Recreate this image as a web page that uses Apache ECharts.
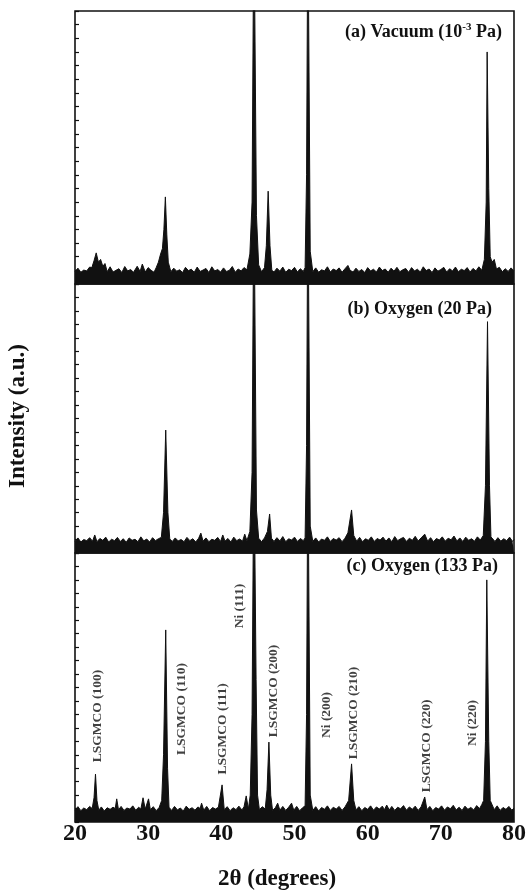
<!DOCTYPE html>
<html><head><meta charset="utf-8">
<script src="https://cdn.jsdelivr.net/npm/echarts@6/dist/echarts.min.js"></script>
<style>html,body{margin:0;padding:0;background:#fff}#c{width:529px;height:891px}</style>
</head><body><div id="c"></div>
<script>
// 2θ (degrees) / intensity (a.u.) pairs
const patternA = [[20,4.6],[20.4,5.8],[20.8,4.3],[21.2,5.1],[21.6,4.8],[22,6.2],[22.3,6],[22.6,8.5],[22.9,11.4],[23.2,8],[23.5,9],[23.8,6.5],[24.1,7.5],[24.4,4.5],[24.8,6.3],[25.2,4.4],[25.6,5.0],[26,5.6],[26.4,4.2],[26.8,6.4],[27.2,4.8],[27.6,5.3],[28,4.3],[28.5,6.5],[28.9,4.6],[29.2,7.3],[29.6,4.4],[30,6],[30.4,5.0],[30.8,4.3],[31.1,6.0],[31.4,8],[31.7,11],[31.95,13],[32.15,20],[32.35,31.9],[32.55,18],[32.75,8],[33.1,4.5],[33.5,5.8],[33.9,4.7],[34.3,5.2],[34.7,4.2],[35.1,6.1],[35.5,4.9],[35.9,5.4],[36.3,4.3],[36.7,6.2],[37.1,4.6],[37.5,5.1],[37.9,5.7],[38.3,4.2],[38.7,6.3],[39.1,4.8],[39.5,5.3],[39.9,4.4],[40.3,5.9],[40.7,4.6],[41.1,5.0],[41.5,6.4],[41.9,4.3],[42.3,5.5],[42.7,4.8],[43.1,6.0],[43.5,5.2],[43.9,11],[44.2,30],[44.45,140],[44.55,140],[44.8,25],[45.1,7],[45.5,4.5],[45.9,6],[46.15,14],[46.4,34],[46.65,14],[46.9,5],[47.2,4.4],[47.6,5.8],[48,4.7],[48.4,6.2],[48.8,4.3],[49.2,5.4],[49.6,4.9],[50,6.1],[50.4,4.4],[50.8,5.6],[51.2,4.6],[51.45,6],[51.65,40],[51.83,140],[51.93,140],[52.15,12],[52.5,4.5],[52.9,5.9],[53.3,4.3],[53.7,5.2],[54.1,4.8],[54.5,6.3],[54.9,4.4],[55.3,5.5],[55.7,4.9],[56.1,5.9],[56.5,4.3],[56.9,5.6],[57.3,6.8],[57.6,5.0],[58,4.4],[58.4,5.8],[58.8,4.6],[59.2,5.3],[59.6,4.2],[60,6.0],[60.4,4.8],[60.8,5.4],[61.2,4.4],[61.6,6.2],[62,4.9],[62.4,5.5],[62.8,4.3],[63.2,5.8],[63.6,4.7],[64,6.1],[64.4,4.5],[64.8,5.2],[65.2,5.7],[65.6,4.3],[66,6.0],[66.4,4.8],[66.8,5.4],[67.2,4.4],[67.6,6.3],[68,4.9],[68.4,5.5],[68.8,4.2],[69.2,5.9],[69.6,4.7],[70,5.3],[70.4,6.1],[70.8,4.4],[71.2,5.6],[71.6,4.8],[72,6.2],[72.4,4.5],[72.8,5.4],[73.2,4.9],[73.6,6.0],[74,4.4],[74.4,5.7],[74.8,4.8],[75.2,6.3],[75.6,5.0],[75.95,9],[76.2,30],[76.33,85],[76.4,85],[76.55,35],[76.75,10],[77,8],[77.3,9],[77.6,5.5],[78,6.1],[78.4,4.5],[78.8,5.6],[79.2,4.6],[79.6,5.9],[80,4.8]];

const patternB = [[20,4.3],[20.4,5.6],[20.8,4.1],[21.2,5.0],[21.6,4.6],[22,5.7],[22.4,4.4],[22.7,6.7],[23,4.2],[23.4,5.4],[23.8,4.7],[24.2,5.9],[24.6,4.1],[25,5.1],[25.4,4.6],[25.8,5.8],[26.2,4.3],[26.6,5.3],[27,4.0],[27.4,5.6],[27.8,4.7],[28.2,5.1],[28.6,4.2],[29,6.0],[29.4,4.5],[29.8,5.2],[30.2,4.1],[30.6,5.7],[31,4.6],[31.4,5.3],[31.8,5.8],[32.1,15],[32.4,45.7],[32.7,15],[32.95,5.2],[33.3,4.3],[33.7,5.6],[34.1,4.5],[34.5,5.0],[34.9,4.2],[35.3,5.8],[35.7,4.6],[36.1,5.3],[36.5,4.1],[36.9,5.5],[37.2,7.4],[37.5,4.4],[37.9,5.6],[38.3,4.2],[38.7,5.1],[39.1,4.7],[39.5,5.8],[39.9,4.3],[40.2,6.7],[40.5,4.4],[40.9,5.4],[41.3,4.1],[41.7,5.9],[42.1,4.6],[42.5,5.2],[42.9,4.4],[43.2,7],[43.5,4.6],[43.9,8],[44.2,30],[44.45,140],[44.55,140],[44.8,16],[45.1,5.5],[45.5,4.2],[45.9,5.6],[46.3,8],[46.6,14.5],[46.85,5.5],[47.2,4.3],[47.6,5.7],[48,4.5],[48.4,6.1],[48.8,4.2],[49.2,5.3],[49.6,4.8],[50,5.9],[50.4,4.3],[50.8,5.4],[51.2,4.6],[51.45,5.6],[51.65,40],[51.83,140],[51.93,140],[52.15,10],[52.5,4.3],[52.9,5.6],[53.3,4.1],[53.7,5.2],[54.1,4.7],[54.5,6.0],[54.9,4.3],[55.3,5.4],[55.7,4.8],[56.1,5.7],[56.5,4.2],[56.9,5.5],[57.3,7.5],[57.8,16],[58.1,6.5],[58.5,4.4],[58.9,5.8],[59.3,4.2],[59.7,5.3],[60.1,4.7],[60.5,6.0],[60.9,4.3],[61.3,5.4],[61.7,4.8],[62.1,5.9],[62.5,4.4],[62.9,5.6],[63.3,4.2],[63.7,6.1],[64.1,4.6],[64.5,5.3],[64.9,5.8],[65.3,4.3],[65.7,5.5],[66.1,4.7],[66.5,6.2],[66.9,4.5],[67.3,5.6],[67.8,7],[68.2,4.4],[68.6,5.7],[69,4.2],[69.4,5.4],[69.8,4.8],[70.2,6.0],[70.6,4.4],[71,5.5],[71.4,4.9],[71.8,6.3],[72.2,4.5],[72.6,5.6],[73,4.3],[73.4,5.9],[73.8,4.7],[74.2,5.3],[74.6,4.4],[75,6.0],[75.4,4.8],[75.8,6.5],[76.1,25],[76.38,86],[76.45,86],[76.65,25],[76.85,6],[77.1,6.2],[77.4,4.3],[77.8,5.7],[78.2,4.4],[78.6,5.3],[79,4.6],[79.4,5.9],[79.8,4.3],[80,5.0]];

const patternC = [[20,4.4],[20.4,5.7],[20.8,4.2],[21.2,5.2],[21.6,4.6],[22,5.8],[22.35,5.0],[22.6,9],[22.8,17.8],[23,8],[23.25,4.4],[23.6,5.6],[24,4.1],[24.4,5.3],[24.8,4.7],[25.2,5.5],[25.5,5.0],[25.7,8.6],[25.95,4.5],[26.3,5.8],[26.7,4.3],[27.1,5.2],[27.5,4.8],[27.9,6.0],[28.3,4.4],[28.7,5.5],[29,4.8],[29.3,9],[29.6,4.8],[29.85,5.5],[30.05,8.6],[30.3,4.6],[30.7,5.7],[31.1,4.2],[31.5,5.4],[31.85,8],[32.1,25],[32.4,71.4],[32.65,20],[32.85,5.5],[33.2,4.3],[33.6,5.8],[34,4.5],[34.4,5.2],[34.8,4.1],[35.2,5.9],[35.6,4.7],[36,5.3],[36.4,4.4],[36.8,5.6],[37.1,5.0],[37.3,7],[37.6,4.4],[38,5.8],[38.4,4.2],[38.8,5.4],[39.2,4.8],[39.6,5.5],[39.85,6],[40.1,13.8],[40.4,4.6],[40.8,5.7],[41.2,4.2],[41.6,5.3],[42,4.6],[42.4,5.9],[42.8,4.5],[43.1,5.6],[43.4,9.7],[43.7,4.8],[43.95,10],[44.2,40],[44.45,140],[44.55,140],[44.75,53],[44.95,10],[45.2,4.6],[45.6,5.7],[46,4.8],[46.25,12],[46.5,29.7],[46.75,10],[47,4.3],[47.4,5.4],[47.7,7],[48,4.4],[48.4,5.8],[48.8,4.3],[49.2,5.5],[49.6,7],[49.9,4.4],[50.3,5.8],[50.7,4.2],[51.1,5.3],[51.45,6],[51.65,40],[51.83,140],[51.93,140],[52.15,10],[52.5,4.3],[52.9,5.7],[53.3,4.1],[53.7,5.4],[54.1,4.7],[54.5,6.0],[54.9,4.3],[55.3,5.5],[55.7,4.8],[56.1,5.8],[56.5,4.3],[56.9,5.6],[57.4,8],[57.8,21.6],[58.1,8],[58.4,4.5],[58.8,5.7],[59.2,4.2],[59.6,5.4],[60,4.7],[60.4,6.0],[60.8,4.4],[61.2,5.6],[61.6,4.8],[62,5.9],[62.3,4.6],[62.6,6.3],[62.95,4.5],[63.3,5.8],[63.7,4.3],[64.1,5.5],[64.5,4.9],[64.9,6.1],[65.3,4.4],[65.7,5.6],[66.1,4.7],[66.5,5.9],[66.9,4.3],[67.3,5.6],[67.8,9.3],[68.1,4.6],[68.5,5.8],[68.9,4.2],[69.3,5.4],[69.7,4.8],[70.1,6.0],[70.5,4.4],[70.9,5.6],[71.3,4.9],[71.7,6.2],[72.1,4.5],[72.5,5.5],[72.9,4.3],[73.3,5.9],[73.7,4.7],[74.1,5.4],[74.5,4.5],[74.9,6.1],[75.3,5.0],[75.6,6.5],[75.85,8],[76.1,30],[76.28,90],[76.35,90],[76.55,30],[76.75,8],[77,8.2],[77.3,4.6],[77.7,6.0],[78.1,4.3],[78.5,5.4],[78.9,4.7],[79.3,5.8],[79.7,4.4],[80,5.2]];

const xTicks = [20, 30, 40, 50, 60, 70, 80];
const panelLabels = ['(a) Vacuum (10', '(b) Oxygen (20 Pa)', '(c) Oxygen (133 Pa)'];
const peakNames = ['LSGMCO (100)', 'LSGMCO (110)', 'LSGMCO (111)', 'Ni (111)', 'LSGMCO (200)', 'Ni (200)', 'LSGMCO (210)', 'LSGMCO (220)', 'Ni (220)'];
const peakLabelX = [23.1, 34.6, 40.1, 42.5, 47.1, 54.4, 58.0, 68.1, 74.3];
const peakLabelY = [39.4, 42.0, 34.6, 80.3, 48.7, 39.8, 40.5, 28.3, 36.8];

const serif = '"Liberation Serif", "Times New Roman", serif';
const chart = echarts.init(document.getElementById('c'), null, {renderer: 'canvas'});

const grids = [
  {left: 75, right: 15, top: 11, height: 273},
  {left: 75, right: 15, top: 284, height: 269},
  {left: 75, right: 15, top: 553, height: 269}
].map(g => Object.assign(g, {show: true, borderColor: '#111', borderWidth: 1.6, containLabel: false}));

const xAxes = [0, 1, 2].map(i => ({
  type: 'value', gridIndex: i, min: 20, max: 80, interval: 10,
  axisLine: {show: false}, axisTick: {show: false}, splitLine: {show: false},
  axisLabel: {show: i === 2, margin: 0, color: '#111', fontFamily: serif, fontWeight: 'bold', fontSize: 24,
    formatter: v => xTicks.includes(v) ? String(v) : ''}
}));
const yAxes = [0, 1, 2].map(i => ({
  type: 'value', gridIndex: i, min: 0, max: 100, interval: 5,
  axisLine: {show: false}, splitLine: {show: false}, axisLabel: {show: false},
  axisTick: {show: true, inside: true, length: 4, lineStyle: {color: '#111', width: 1.2}}
}));

const series = [patternA, patternB, patternC].map((d, i) => ({
  type: 'line', xAxisIndex: i, yAxisIndex: i, data: d, showSymbol: false, symbol: 'none',
  lineStyle: {color: '#111', width: 1}, areaStyle: {color: '#111', opacity: 1, origin: 'start'},
  clip: true, animation: false
}));
series.push({
  type: 'scatter', xAxisIndex: 2, yAxisIndex: 2, symbolSize: 0, animation: false, silent: true,
  data: peakNames.map((n, k) => ({name: n, value: [peakLabelX[k], peakLabelY[k]]})),
  label: {show: true, position: 'inside', rotate: 90, formatter: p => p.name, color: '#111',
    fontFamily: serif, fontWeight: 'bold', fontSize: 13.5, align: 'center', verticalAlign: 'middle'}
});

const txt = {fontFamily: serif, fontWeight: 'bold', fill: '#111'};
chart.setOption({
  animation: false,
  backgroundColor: '#fff',
  grid: grids, xAxis: xAxes, yAxis: yAxes, series: series,
  graphic: [
    {type: 'text', right: 27, top: 22, style: Object.assign({}, txt, {
      text: '{t|' + panelLabels[0] + '}{s|-3}{t| Pa)}',
      rich: {t: {fontFamily: serif, fontWeight: 'bold', fontSize: 18, fill: '#111', verticalAlign: 'bottom', lineHeight: 22},
             s: {fontFamily: serif, fontWeight: 'bold', fontSize: 11, fill: '#111', verticalAlign: 'bottom', lineHeight: 22, padding: [0, 0, 8, 0]}}})},
    {type: 'text', right: 37, top: 300, style: Object.assign({}, txt, {text: panelLabels[1], fontSize: 18})},
    {type: 'text', right: 31, top: 557, style: Object.assign({}, txt, {text: panelLabels[2], fontSize: 18})},
    {type: 'text', x: 277, y: 879, style: Object.assign({}, txt, {text: '2θ (degrees)', fontSize: 23, textAlign: 'center', textVerticalAlign: 'middle'})},
    {type: 'text', x: 18, y: 416, rotation: Math.PI / 2, style: Object.assign({}, txt, {text: 'Intensity (a.u.)', fontSize: 23, textAlign: 'center', textVerticalAlign: 'middle'})}
  ]
});
</script></body></html>
